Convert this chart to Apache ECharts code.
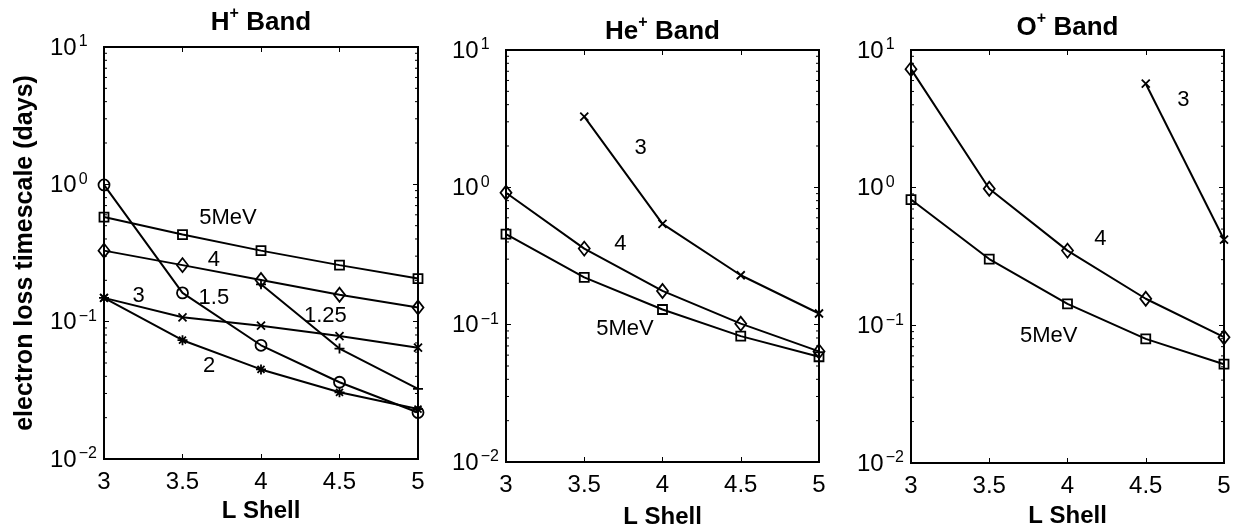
<!DOCTYPE html>
<html>
<head>
<meta charset="utf-8">
<script src="https://cdn.jsdelivr.net/npm/echarts@6/dist/echarts.min.js"></script>
<style>
html,body{margin:0;padding:0;background:#fff;}
#chart{width:1235px;height:529px;}
</style>
</head>
<body>
<div id="chart"></div>
<script>
// ---------- data ----------
const lShell = [3, 3.5, 4, 4.5, 5];

// H+ band
const hE5   = [0.578, 0.431, 0.329, 0.258, 0.206];
const hE4   = [0.329, 0.258, 0.201, 0.157, 0.127];
const hE3   = [0.149, 0.1076, 0.0935, 0.0785, 0.0647];
const hE2   = [0.149, 0.0733, 0.0449, 0.0306, 0.0231];
const hE15  = [0.99, 0.162, 0.0673, 0.0362, 0.0218];
const hE125 = [null, null, 0.187, 0.0637, 0.0324];

// He+ band
const heE5 = [0.457, 0.221, 0.129, 0.0825, 0.0584];
const heE4 = [0.914, 0.358, 0.176, 0.1017, 0.0639];
const heE3 = [null, 3.27, 0.542, 0.229, 0.1206];

// O+ band
const oE5 = [0.82, 0.303, 0.143, 0.0797, 0.0522];
const oE4 = [7.26, 0.983, 0.349, 0.156, 0.082];
const oE3 = [null, null, null, 5.69, 0.42];

// curve annotations [L, value, text]
const hLabels  = [[3.79, 0.571, '5MeV'], [3.70, 0.282, '4'], [3.22, 0.153, '3'], [3.70, 0.148, '1.5'], [4.41, 0.111, '1.25'], [3.67, 0.0478, '2']];
const heLabels = [[3.86, 1.92, '3'], [3.73, 0.39, '4'], [3.76, 0.0924, '5MeV']];
const oLabels  = [[4.74, 4.34, '3'], [4.21, 0.425, '4'], [3.88, 0.0837, '5MeV']];

// tick values
const xTicks = [3, 3.5, 4, 4.5, 5];
const yMin = 0.01, yMax = 10;
const yMinorTicks = [0.02,0.03,0.04,0.05,0.06,0.07,0.08,0.09,
                     0.2,0.3,0.4,0.5,0.6,0.7,0.8,0.9,
                     2,3,4,5,6,7,8,9];

const titles = [['H', '+'], ['He', '+'], ['O', '+']];
const yTitle = 'electron loss timescale (days)';
const xTitle = 'L Shell';

// ---------- layout ----------
const FONT = "'Liberation Sans', Arial, Helvetica, sans-serif";
const grids = [
  {left: 104, top: 47, width: 314, height: 412},
  {left: 506, top: 50, width: 313, height: 412},
  {left: 911, top: 50, width: 313, height: 413}
];
const titleCenters = [21, 30, 26];
const xNameGaps = [33, 43, 41];

const SYM = {
  square: 'rect',
  diamond: 'diamond',
  circle: 'circle',
  plus: 'path://M5,0 L5,10 M0,5 L10,5',
  cross: 'path://M0,0 L10,10 M10,0 L0,10',
  star: 'path://M5,0 L5,10 M0,5 L10,5 M1.5,1.5 L8.5,8.5 M8.5,1.5 L1.5,8.5'
};
const SYMSIZE = {square: 9, diamond: [11, 14], circle: 11, plus: 10, cross: 8, star: 10};

function pairs(vals) {
  return lShell.map((x, i) => vals[i] == null ? null : [x, vals[i]]).filter(d => d);
}
function lineSeries(gi, vals, sym) {
  return {
    type: 'line', xAxisIndex: gi * 2, yAxisIndex: gi * 2,
    data: pairs(vals),
    symbol: SYM[sym], symbolSize: SYMSIZE[sym],
    showAllSymbol: true,
    lineStyle: {color: '#000', width: 2},
    itemStyle: {color: 'rgba(0,0,0,0)', borderColor: '#000', borderWidth: 1.8, opacity: 1},
    emphasis: {disabled: true},
    z: 3, animation: false
  };
}
function labelSeries(gi, labels) {
  return {
    type: 'scatter', xAxisIndex: gi * 2, yAxisIndex: gi * 2,
    data: labels.map(l => ({value: [l[0], l[1]], name: l[2]})),
    symbolSize: 1,
    itemStyle: {opacity: 1, color: 'rgba(0,0,0,0)'},
    label: {show: true, position: 'inside', formatter: p => p.name,
      color: '#000', opacity: 1, fontSize: 22, fontFamily: FONT},
    emphasis: {disabled: true},
    z: 4, animation: false, silent: true
  };
}
function minorSeries(gi) {
  return {
    type: 'custom', xAxisIndex: gi * 2, yAxisIndex: gi * 2,
    data: yMinorTicks.map(v => [xTicks[0], v]),
    renderItem: function (params, api) {
      const v = api.value(1);
      const pl = api.coord([xTicks[0], v]);
      const pr = api.coord([xTicks[xTicks.length - 1], v]);
      return {type: 'group', children: [
        {type: 'line', shape: {x1: pl[0], y1: pl[1], x2: pl[0] + 3, y2: pl[1]}, style: {stroke: '#000', lineWidth: 1}},
        {type: 'line', shape: {x1: pr[0] - 3, y1: pr[1], x2: pr[0], y2: pr[1]}, style: {stroke: '#000', lineWidth: 1}}
      ]};
    },
    silent: true, z: 2, animation: false
  };
}

const xAxes = [], yAxes = [];
grids.forEach((g, gi) => {
  const common = {
    gridIndex: gi,
    axisLine: {show: true, lineStyle: {color: '#000', width: 1.8}},
    axisTick: {show: true, inside: true, length: 5, lineStyle: {color: '#000', width: 1}},
    splitLine: {show: false}
  };
  xAxes.push(Object.assign({}, common, {
    type: 'value', position: 'bottom', min: 3, max: 5, interval: 0.5,
    axisLabel: {show: true, color: '#000', fontSize: 24, fontFamily: FONT, margin: 11},
    name: xTitle, nameLocation: 'middle', nameGap: xNameGaps[gi],
    nameTextStyle: {color: '#000', fontSize: 24, fontWeight: 'bold', fontFamily: FONT}
  }));
  xAxes.push(Object.assign({}, common, {
    type: 'value', position: 'top', min: 3, max: 5, interval: 0.5,
    axisLabel: {show: false}
  }));
  const yLeft = Object.assign({}, common, {
    type: 'log', logBase: 10, position: 'left', min: yMin, max: yMax, interval: 1,
    axisLabel: {
      show: true, margin: 54, align: 'left',
      formatter: function (v) {
        const e = Math.round(Math.log10(v));
        return '{b|10}{s|' + String(e).replace('-', '\u2212') + '}';
      },
      rich: {
        b: {fontSize: 24, fontFamily: FONT, color: '#000', lineHeight: 26, verticalAlign: 'bottom'},
        s: {fontSize: 16, fontFamily: FONT, color: '#000', lineHeight: 26, verticalAlign: 'top', padding: [0, 0, 10, 2]}
      }
    }
  });
  if (gi === 0) {
    Object.assign(yLeft, {
      name: yTitle, nameLocation: 'middle', nameGap: 66, nameRotate: 90,
      nameTextStyle: {color: '#000', fontSize: 25, fontWeight: 'bold', fontFamily: FONT}
    });
  }
  yAxes.push(yLeft);
  yAxes.push(Object.assign({}, common, {
    type: 'log', logBase: 10, position: 'right', min: yMin, max: yMax, interval: 1,
    axisLabel: {show: false}
  }));
});

const title = titles.map((t, i) => ({
  text: '{b|' + t[0] + '}{s|' + t[1] + '}{b| Band}',
  left: grids[i].left + grids[i].width / 2,
  textAlign: 'center',
  top: titleCenters[i] - 15,
  padding: 0,
  textStyle: {
    rich: {
      b: {fontSize: 26, fontWeight: 'bold', fontFamily: FONT, color: '#000', lineHeight: 30, verticalAlign: 'bottom'},
      s: {fontSize: 16, fontWeight: 'bold', fontFamily: FONT, color: '#000', lineHeight: 30, verticalAlign: 'top'}
    }
  }
}));

const series = [
  minorSeries(0), minorSeries(1), minorSeries(2),
  lineSeries(0, hE5, 'square'),
  lineSeries(0, hE4, 'diamond'),
  lineSeries(0, hE3, 'cross'),
  lineSeries(0, hE2, 'star'),
  lineSeries(0, hE15, 'circle'),
  lineSeries(0, hE125, 'plus'),
  labelSeries(0, hLabels),
  lineSeries(1, heE5, 'square'),
  lineSeries(1, heE4, 'diamond'),
  lineSeries(1, heE3, 'cross'),
  labelSeries(1, heLabels),
  lineSeries(2, oE5, 'square'),
  lineSeries(2, oE4, 'diamond'),
  lineSeries(2, oE3, 'cross'),
  labelSeries(2, oLabels)
];

const chart = echarts.init(document.getElementById('chart'), null, {renderer: 'canvas'});
chart.setOption({
  backgroundColor: '#fff',
  animation: false,
  title: title,
  grid: grids.map(g => Object.assign({show: true, borderColor: '#000', borderWidth: 1.8, backgroundColor: '#fff',
    outerBoundsMode: 'none', containLabel: false}, g)),
  xAxis: xAxes,
  yAxis: yAxes,
  series: series
});
</script>
</body>
</html>
